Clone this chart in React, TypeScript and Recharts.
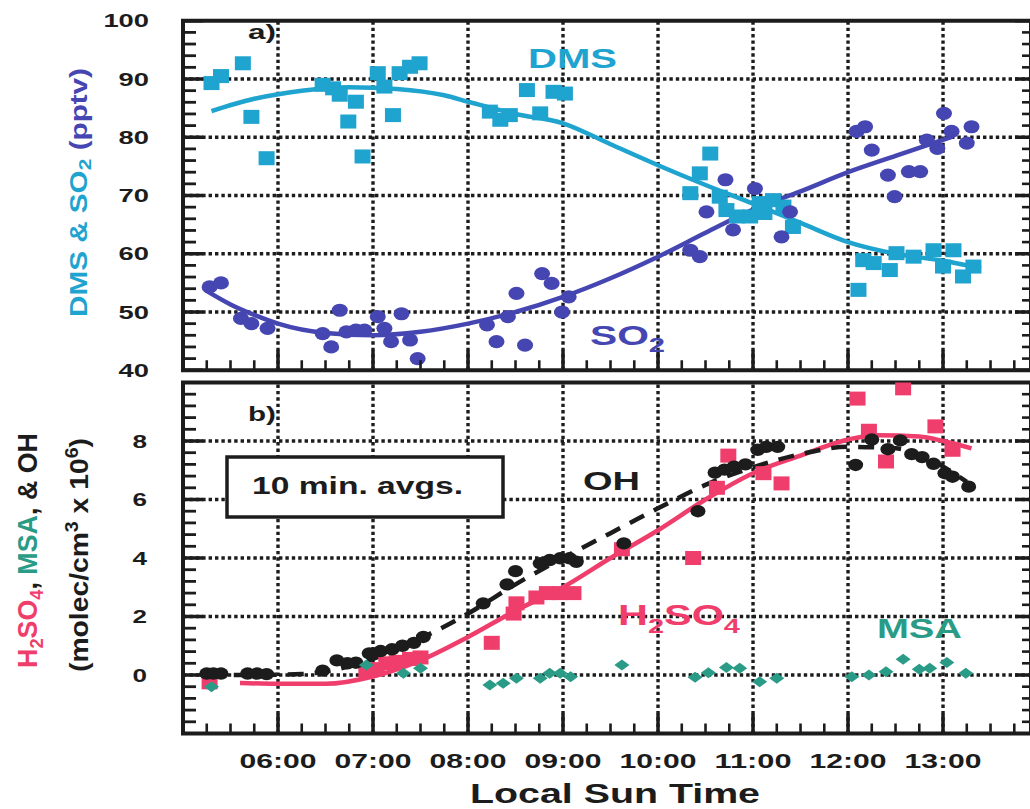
import React from 'react';
import { ComposedChart, Scatter, Line, XAxis, YAxis, ReferenceLine, ReferenceArea } from 'recharts';

const FONT = '"Liberation Sans", Arial, Helvetica, sans-serif';
const INK = '#1c1c1c';
const CYAN = '#1fa3cf';
const INDIGO = '#4646b2';
const PINK = '#f03e6c';
const TEAL = '#2a9b86';

// time axis, decimal local sun hours
const timeDomain = [5, 13.926];
const hourTicks = [6, 7, 8, 9, 10, 11, 12, 13];
const hourLabels = ['06:00', '07:00', '08:00', '09:00', '10:00', '11:00', '12:00', '13:00'];
const quarterTicks = Array.from({ length: 35 }, (_, i) => 5.25 + i * 0.25);

// panel a) DMS & SO2 (pptv)
const aDomain = [40, 100];
const aGrid = [50, 60, 70, 80, 90];
const aLabels = [40, 50, 60, 70, 80, 90, 100];
const aTicks = Array.from({ length: 31 }, (_, i) => 40 + i * 2);

const dmsHours = [5.3, 5.4, 5.63, 5.72, 5.88, 6.47, 6.58, 6.65, 6.74, 6.82, 6.89, 7.05, 7.12, 7.21, 7.28, 7.39, 7.49,
  8.23, 8.34, 8.44, 8.62, 8.76, 8.9, 9.02, 10.34, 10.44, 10.55, 10.65, 10.72, 10.83, 10.97, 11.07, 11.12, 11.21, 11.32, 11.42,
  12.11, 12.16, 12.27, 12.44, 12.51, 12.69, 12.9, 13.0, 13.11, 13.21, 13.32];
const dmsValues = [89.3, 90.5, 92.7, 83.5, 76.4, 89.0, 88.4, 87.3, 82.7, 86.1, 76.7, 91.0, 88.7, 83.8, 91.0, 92.1, 92.7,
  84.4, 83.0, 83.8, 88.1, 84.1, 87.8, 87.5, 70.4, 73.8, 77.2, 69.8, 67.5, 66.4, 66.4, 68.7, 67.0, 69.2, 68.1, 64.6,
  53.8, 58.9, 58.4, 57.2, 60.1, 59.5, 60.6, 57.8, 60.6, 56.1, 57.8];

const so2Hours = [5.28, 5.4, 5.61, 5.72, 5.89, 6.47, 6.56, 6.65, 6.72, 6.82, 6.91, 7.05, 7.12, 7.19, 7.3, 7.39, 7.47,
  8.2, 8.3, 8.42, 8.51, 8.6, 8.78, 8.88, 8.99, 9.06, 10.34, 10.44, 10.51, 10.71, 10.79, 11.02, 11.3, 11.39,
  12.09, 12.18, 12.25, 12.42, 12.49, 12.64, 12.76, 12.83, 12.94, 13.01, 13.09, 13.25, 13.3];
const so2Values = [54.3, 55.0, 48.9, 48.0, 47.2, 46.3, 44.0, 50.3, 46.6, 46.9, 46.9, 49.2, 47.2, 44.9, 49.7, 45.2, 42.0,
  47.8, 44.9, 49.2, 53.2, 44.3, 56.6, 54.9, 50.0, 52.6, 60.6, 59.5, 67.2, 72.7, 64.1, 71.2, 62.9, 67.2,
  81.0, 81.8, 77.8, 73.5, 69.8, 74.1, 74.1, 79.5, 78.1, 84.1, 81.0, 79.0, 81.8];

const dmsFitHours = [5.3, 5.75, 6.25, 6.75, 7.25, 7.75, 8.0, 8.5, 9.0, 9.5, 10.0, 10.5, 11.0, 11.5, 12.0, 12.5, 13.0, 13.4];
const dmsFitValues = [84.5, 86.6, 88.0, 88.6, 88.3, 87.2, 86.1, 84.0, 82.4, 78.8, 75.2, 71.8, 68.6, 65.3, 62.0, 60.0, 58.8, 57.5];

const so2FitHours = [5.23, 5.5, 5.75, 6.0, 6.5, 7.0, 7.5, 8.0, 8.5, 9.0, 9.5, 10.0, 10.5, 11.0, 11.5, 12.0, 12.5, 13.1];
const so2FitValues = [53.8, 51.3, 49.5, 48.0, 46.4, 46.0, 46.6, 48.0, 50.0, 52.6, 55.8, 59.5, 63.6, 67.6, 70.7, 74.0, 76.8, 80.1];

// panel b) H2SO4, MSA & OH (molec/cm3 x 10^6)
const bDomain = [-2, 10];
const bGrid = [0, 2, 4, 6, 8];
const bLabels = [0, 2, 4, 6, 8];
const bTicks = Array.from({ length: 31 }, (_, i) => Math.round((-2 + i * 0.4) * 10) / 10);

const h2so4Hours = [5.28, 6.93, 7.04, 7.14, 7.25, 7.39, 7.5, 8.25, 8.48, 8.51, 8.72, 8.83, 8.97, 9.11, 9.62,
  10.37, 10.62, 10.74, 11.11, 11.3, 12.1, 12.22, 12.4, 12.58, 12.92, 13.1];
const h2so4Values = [-0.25, 0.15, 0.2, 0.4, 0.45, 0.55, 0.6, 1.1, 2.1, 2.45, 2.65, 2.8, 2.8, 2.8, 4.3,
  4.0, 6.4, 7.5, 6.9, 6.55, 9.45, 8.35, 7.3, 9.8, 8.5, 7.7];

const ohHours = [5.25, 5.32, 5.4, 5.68, 5.78, 5.88, 6.47, 6.62, 6.73, 6.82, 6.96, 7.08, 7.2, 7.31, 7.43, 7.53,
  8.16, 8.41, 8.5, 8.76, 8.86, 8.97, 9.07, 9.14, 9.64, 10.42, 10.6, 10.7, 10.8, 10.92, 11.05, 11.14, 11.26,
  12.08, 12.25, 12.42, 12.55, 12.67, 12.78, 12.9, 13.02, 13.1, 13.27];
const ohValues = [0.05, 0.05, 0.05, 0.05, 0.05, 0.03, 0.15, 0.5, 0.4, 0.42, 0.74, 0.82, 0.88, 1.0, 1.1, 1.3,
  2.45, 3.1, 3.55, 3.82, 3.93, 3.99, 3.99, 3.87, 4.5, 5.6, 6.92, 7.02, 7.12, 7.2, 7.7, 7.8, 7.8,
  7.18, 8.05, 7.72, 8.02, 7.55, 7.45, 7.22, 6.9, 6.78, 6.44];

const msaHours = [5.3, 6.93, 7.32, 7.5, 8.23, 8.37, 8.51, 8.76, 8.86, 8.97, 9.08, 9.62, 10.39, 10.53, 10.72, 10.86,
  11.07, 11.25, 12.04, 12.22, 12.4, 12.58, 12.75, 12.86, 13.04, 13.24];
const msaValues = [-0.4, 0.34, 0.06, 0.23, -0.34, -0.28, -0.11, -0.11, 0.06, 0.06, -0.06, 0.34, -0.08, 0.08, 0.26, 0.23,
  -0.23, -0.11, -0.06, 0.0, 0.11, 0.54, 0.2, 0.23, 0.43, 0.06];

const h2so4FitHours = [5.6, 6.0, 6.5, 7.0, 7.5, 8.0, 8.5, 9.0, 9.5, 10.0, 10.5, 11.0, 11.5, 12.0, 12.3, 12.75, 13.0, 13.3];
const h2so4FitValues = [-0.27, -0.3, -0.3, -0.05, 0.5, 1.3, 2.2, 3.0, 4.0, 4.95, 6.0, 6.9, 7.5, 8.05, 8.2, 8.15, 8.0, 7.75];

const ohFitHours = [5.25, 5.75, 6.25, 6.75, 7.0, 7.5, 8.0, 8.5, 9.0, 9.5, 10.0, 10.5, 11.0, 11.5, 12.0, 12.5, 12.9, 13.25];
const ohFitValues = [0.0, 0.0, 0.03, 0.3, 0.55, 1.25, 2.1, 3.1, 4.0, 4.85, 5.7, 6.5, 7.1, 7.55, 7.8, 7.75, 7.3, 6.6];

const pts = (hs: number[], vs: number[]) => hs.map((h, i) => ({ h, v: vs[i] }));

const PLOT_LEFT = 183;
const PLOT_RIGHT = 1031;
const CHART_W = 1040;

function XTick(props: any) {
  const { x, y, payload, showLabels } = props;
  const v = Math.round(payload.value * 4) / 4;
  const idx = hourTicks.indexOf(v);
  const major = idx >= 0;
  return (
    <g>
      <line x1={x} x2={x} y1={y} y2={y - (major ? 20 : 10)} stroke={INK} strokeWidth={major ? 3.5 : 2.6} />
      {showLabels && major && (
        <text x={x} y={y + 34.5} textAnchor="middle" fontFamily={FONT} fontWeight="bold" fontSize={21}
          fill={INK} textLength={77} lengthAdjust="spacingAndGlyphs">{hourLabels[idx]}</text>
      )}
    </g>
  );
}

function YTick(props: any) {
  const { y, payload, labels, labelX, digitW } = props;
  const v = Math.round(payload.value * 10) / 10;
  const major = labels.includes(v);
  const txt = String(v);
  return (
    <g>
      <line x1={PLOT_LEFT} x2={PLOT_LEFT + (major ? 20 : 13)} y1={y} y2={y} stroke={INK} strokeWidth={major ? 3.5 : 2.8} />
      <line x1={PLOT_RIGHT - (major ? 16 : 9)} x2={PLOT_RIGHT} y1={y} y2={y} stroke={INK} strokeWidth={major ? 3.5 : 2.6} />
      {major && (
        <text x={labelX} y={y + 6.5} textAnchor="end" fontFamily={FONT} fontWeight="bold" fontSize={19}
          fill={INK} textLength={digitW * txt.length} lengthAdjust="spacingAndGlyphs">{txt}</text>
      )}
    </g>
  );
}

const squareShape = (w: number, h: number, color: string) => (p: any) =>
  <rect x={p.cx - w / 2} y={p.cy - h / 2} width={w} height={h} fill={color} />;
const dotShape = (rx: number, ry: number, color: string) => (p: any) =>
  <ellipse cx={p.cx} cy={p.cy} rx={rx} ry={ry} fill={color} />;
const diamondShape = (rx: number, ry: number, color: string) => (p: any) =>
  <polygon points={`${p.cx - rx},${p.cy} ${p.cx},${p.cy - ry} ${p.cx + rx},${p.cy} ${p.cx},${p.cy + ry}`} fill={color} />;

const gridStyle = { stroke: INK, strokeWidth: 3.4, strokeDasharray: '3.4 3' };

function PanelA() {
  return (
    <ComposedChart width={CHART_W} height={384} margin={{ top: 20.75, right: CHART_W - PLOT_RIGHT, bottom: 0, left: PLOT_LEFT - 100 }}>
      <XAxis type="number" dataKey="h" domain={timeDomain} ticks={quarterTicks} interval={0} allowDataOverflow
        tickSize={0} tickMargin={0} axisLine={false} tickLine={false} height={13.75} tick={<XTick showLabels={false} />} />
      <YAxis type="number" domain={aDomain} ticks={aTicks} interval={0} allowDataOverflow width={100}
        tickSize={0} tickMargin={0} axisLine={false} tickLine={false} tick={<YTick labels={aLabels} labelX={149} digitW={15.2} />} />
      {aGrid.map((v) => <ReferenceLine key={'ya' + v} y={v} {...gridStyle} />)}
      {hourTicks.map((h) => <ReferenceLine key={'xa' + h} x={h} {...gridStyle} />)}
      <ReferenceArea x1={timeDomain[0]} x2={timeDomain[1]} y1={aDomain[0]} y2={aDomain[1]} fill="none" stroke={INK} strokeWidth={4} fillOpacity={0} />
      <Scatter data={pts(dmsHours, dmsValues)} dataKey="v" shape={squareShape(16, 14, CYAN)} isAnimationActive={false} />
      <Scatter data={pts(so2Hours, so2Values)} dataKey="v" shape={dotShape(8, 6.6, INDIGO)} isAnimationActive={false} />
      <Line data={pts(dmsFitHours, dmsFitValues)} dataKey="v" type="monotone" stroke={CYAN} strokeWidth={4.5} dot={false} activeDot={false} isAnimationActive={false} />
      <Line data={pts(so2FitHours, so2FitValues)} dataKey="v" type="monotone" stroke={INDIGO} strokeWidth={4.5} dot={false} activeDot={false} isAnimationActive={false} />
    </ComposedChart>
  );
}

function PanelB() {
  return (
    <ComposedChart width={CHART_W} height={431} margin={{ top: 4.5, right: CHART_W - PLOT_RIGHT, bottom: 0, left: PLOT_LEFT - 100 }}>
      <XAxis type="number" dataKey="h" domain={timeDomain} ticks={quarterTicks} interval={0} allowDataOverflow
        tickSize={0} tickMargin={0} axisLine={false} tickLine={false} height={75.5} tick={<XTick showLabels />} />
      <YAxis type="number" domain={bDomain} ticks={bTicks} interval={0} allowDataOverflow width={100}
        tickSize={0} tickMargin={0} axisLine={false} tickLine={false} tick={<YTick labels={bLabels} labelX={147} digitW={14.5} />} />
      {bGrid.map((v) => <ReferenceLine key={'yb' + v} y={v} {...gridStyle} />)}
      {hourTicks.map((h) => <ReferenceLine key={'xb' + h} x={h} {...gridStyle} />)}
      <ReferenceArea x1={timeDomain[0]} x2={timeDomain[1]} y1={bDomain[0]} y2={bDomain[1]} fill="none" stroke={INK} strokeWidth={4} fillOpacity={0} />
      <Scatter data={pts(h2so4Hours, h2so4Values)} dataKey="v" shape={squareShape(16, 14, PINK)} isAnimationActive={false} />
      <Scatter data={pts(ohHours, ohValues)} dataKey="v" shape={dotShape(7.5, 6.2, INK)} isAnimationActive={false} />
      <Scatter data={pts(msaHours, msaValues)} dataKey="v" shape={diamondShape(7.5, 5.5, TEAL)} isAnimationActive={false} />
      <Line data={pts(h2so4FitHours, h2so4FitValues)} dataKey="v" type="monotone" stroke={PINK} strokeWidth={4.5} dot={false} activeDot={false} isAnimationActive={false} />
      <Line data={pts(ohFitHours, ohFitValues)} dataKey="v" type="monotone" stroke={INK} strokeWidth={4.5} strokeDasharray="16 11" dot={false} activeDot={false} isAnimationActive={false} />
    </ComposedChart>
  );
}

function Annotations() {
  const bold = { fontFamily: FONT, fontWeight: 'bold' as const };
  return (
    <svg width={1030} height={809} style={{ position: 'absolute', left: 0, top: 0, pointerEvents: 'none' }}>
      {/* panel tags */}
      <text x={248} y={39} fontSize={20} fill={INK} textLength={28} lengthAdjust="spacingAndGlyphs" {...bold}>a)</text>
      <text x={248} y={421} fontSize={20} fill={INK} textLength={28} lengthAdjust="spacingAndGlyphs" {...bold}>b)</text>

      {/* series names */}
      <text x={528} y={68} fontSize={28} fill={CYAN} textLength={89} lengthAdjust="spacingAndGlyphs" {...bold}>DMS</text>
      <text x={590} y={345} fontSize={28} fill={INDIGO} textLength={75} lengthAdjust="spacingAndGlyphs" {...bold}>
        SO<tspan dy={7} fontSize={20}>2</tspan>
      </text>
      <text x={583} y={490} fontSize={26} fill={INK} textLength={57} lengthAdjust="spacingAndGlyphs" {...bold}>OH</text>
      <text x={618} y={625} fontSize={30} fill={PINK} textLength={122} lengthAdjust="spacingAndGlyphs" {...bold}>
        H<tspan dy={8} fontSize={21}>2</tspan><tspan dy={-8}>SO</tspan><tspan dy={8} fontSize={21}>4</tspan>
      </text>
      <text x={877} y={638} fontSize={28} fill={TEAL} textLength={85} lengthAdjust="spacingAndGlyphs" {...bold}>MSA</text>

      {/* averaging box */}
      <rect x={227} y={457} width={276} height={60} fill="#fff" stroke={INK} strokeWidth={3.5} />
      <text x={252} y={494} fontSize={23} fill={INK} textLength={211} lengthAdjust="spacingAndGlyphs" {...bold}>10 min. avgs.</text>

      {/* x axis title */}
      <text x={470} y={803} fontSize={27} fill={INK} textLength={290} lengthAdjust="spacingAndGlyphs" {...bold}>Local Sun Time</text>

      {/* y axis titles */}
      <text transform="translate(87,317) rotate(-90)" fontSize={24} textLength={249} lengthAdjust="spacingAndGlyphs" {...bold}>
        <tspan fill={CYAN}>DMS &amp; SO</tspan><tspan fill={CYAN} dy={4} fontSize={17}>2</tspan>
        <tspan fill={INDIGO} dy={-4}>{'  (pptv)'}</tspan>
      </text>
      <text transform="translate(37,668) rotate(-90)" fontSize={28} textLength={235} lengthAdjust="spacingAndGlyphs" {...bold}>
        <tspan fill={PINK}>H</tspan><tspan fill={PINK} dy={6} fontSize={19}>2</tspan>
        <tspan fill={PINK} dy={-6}>SO</tspan><tspan fill={PINK} dy={6} fontSize={19}>4</tspan>
        <tspan fill={INK} dy={-6}>, </tspan><tspan fill={TEAL}>MSA</tspan><tspan fill={INK}>, &amp; OH</tspan>
      </text>
      <text transform="translate(88,672) rotate(-90)" fontSize={26} fill={INK} textLength={234} lengthAdjust="spacingAndGlyphs" {...bold}>
        (molec/cm<tspan dy={-10} fontSize={18}>3</tspan><tspan dy={10}> x 10</tspan><tspan dy={-10} fontSize={18}>6</tspan><tspan dy={10}>)</tspan>
      </text>
    </svg>
  );
}

export default function App() {
  return (
    <div style={{ position: 'absolute', left: 0, top: 0, width: 1030, height: 809, overflow: 'hidden', background: '#fff', fontFamily: FONT }}>
      <div style={{ position: 'absolute', left: 0, top: 0 }}>
        <PanelA />
      </div>
      <div style={{ position: 'absolute', left: 0, top: 378 }}>
        <PanelB />
      </div>
      <Annotations />
    </div>
  );
}
